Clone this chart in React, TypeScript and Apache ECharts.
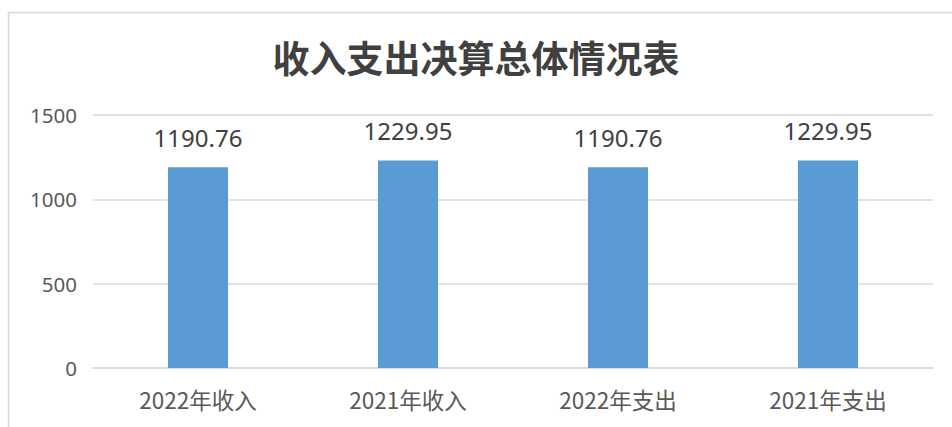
import React, { useEffect, useRef } from "react";
import * as echarts from "echarts";

const categories = ["2022年收入", "2021年收入", "2022年支出", "2021年支出"];
const values = [1190.76, 1229.95, 1190.76, 1229.95];
const titleText = "收入支出决算总体情况表";

export default function App() {
  const ref = useRef<HTMLDivElement>(null);
  useEffect(() => {
    if (!ref.current) return;
    const chart = echarts.init(ref.current, null, { renderer: "svg" });
    chart.setOption({
      animation: false,
      backgroundColor: "#ffffff",
      title: {
        text: titleText,
        left: "center",
        top: 33,
        textStyle: {
          fontFamily: "Noto Sans CJK SC",
          fontSize: 37,
          fontWeight: "bold",
          color: "#404040",
        },
      },
      graphic: [
        {
          type: "rect",
          shape: { x: 8.5, y: 12.5, width: 1200, height: 1000 },
          style: { fill: "none", stroke: "#d6d6d6", lineWidth: 1.5 },
          silent: true,
          z: -1,
        },
      ],
      grid: { left: 93, right: 19, top: 115, bottom: 59, containLabel: false },
      xAxis: {
        type: "category",
        data: categories,
        axisLine: { lineStyle: { color: "#d9d9d9", width: 1.5 } },
        axisTick: { show: false },
        axisLabel: {
          margin: 20,
          fontSize: 22.5,
          color: "#595959",
          fontFamily: "Noto Sans CJK SC",
        },
      },
      yAxis: {
        type: "value",
        min: 0,
        max: 1500,
        interval: 500,
        axisLine: { show: false },
        axisTick: { show: false },
        splitLine: { lineStyle: { color: "#d9d9d9", width: 1.5 } },
        axisLabel: {
          margin: 16,
          fontSize: 20.5,
          color: "#595959",
          fontFamily: "Noto Sans",
          formatter: (v: number) => String(v),
        },
      },
      series: [
        {
          type: "bar",
          data: values,
          barWidth: 60,
          itemStyle: { color: "#5b9bd5" },
          label: {
            show: true,
            position: "top",
            distance: 18,
            fontSize: 24,
            color: "#404040",
            fontFamily: "Noto Sans",
          },
        },
      ],
    });
    return () => chart.dispose();
  }, []);
  return (
    <div
      ref={ref}
      style={{ position: "fixed", left: 0, top: 0, width: 952, height: 427 }}
    />
  );
}
